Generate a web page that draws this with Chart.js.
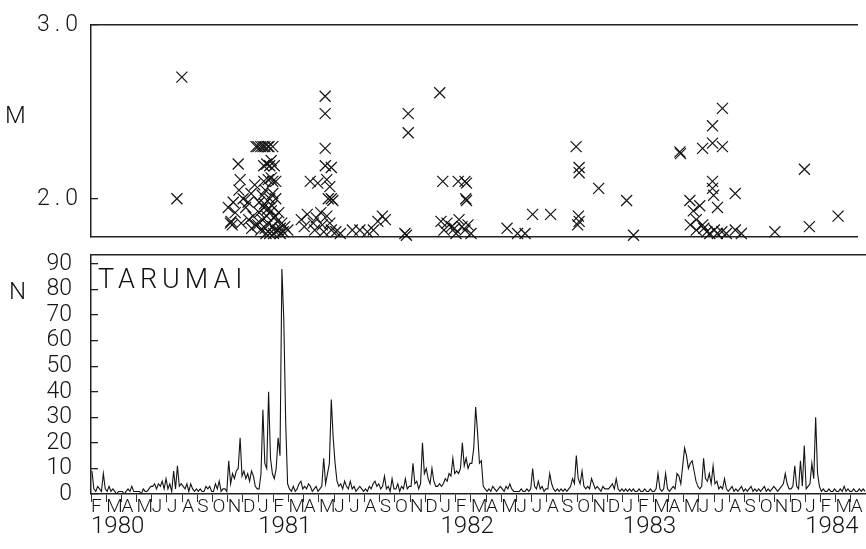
<!DOCTYPE html>
<html>
<head>
<meta charset="utf-8">
<script src="https://cdn.jsdelivr.net/npm/chart.js@4.4.0/dist/chart.umd.min.js"></script>
<style>
html,body{margin:0;padding:0;background:#fff;}
#wrap{position:relative;width:866px;height:549px;overflow:hidden;background:#fff;}
#cTop{position:absolute;left:0;top:0;}
#cBot{position:absolute;left:0;top:246px;}
.lbl{position:absolute;font-family:'Roboto',sans-serif;font-weight:300;color:#111;line-height:1;}
</style>
</head>
<body>
<div id="wrap">
<canvas id="cTop" width="866" height="246"></canvas>
<canvas id="cBot" width="866" height="303"></canvas>
<div class="lbl" style="left:5px;top:103px;font-size:24px">M</div>
<div class="lbl" style="left:9px;top:279px;font-size:24px">N</div>
<div class="lbl" style="left:98px;top:266px;font-size:27px;letter-spacing:5px">TARUMAI</div>
</div>
<script>
// Month tick labels, starting Feb 1980 (one per month)
const monthLabels = ['F','M','A','M','J','J','A','S','O','N','D',
  'J','F','M','A','M','J','J','A','S','O','N','D',
  'J','F','M','A','M','J','J','A','S','O','N','D',
  'J','F','M','A','M','J','J','A','S','O','N','D',
  'J','F','M','A'];
const yearLabels = ['1980','1981','1982','1983','1984'];
const yearStartMonth = [0, 11, 23, 35, 47];
const magTicks = [2.0, 3.0];
const countTicks = [0,10,20,30,40,50,60,70,80,90];

// Daily event counts N, read as 8 samples per month (Feb 1980 .. Apr 1984)
const dailyCounts = [
  [9,2,1,3,2,1,8,2],
  [1,3,1,2,1,0,1,1],
  [1,0,1,2,1,3,1,1],
  [1,1,0,2,1,1,2,3],
  [3,4,2,4,3,5,2,6],
  [2,4,1,9,2,11,3,4],
  [3,2,4,1,4,2,1,2],
  [1,2,1,1,3,2,3,1],
  [1,4,2,5,1,2,2,1],
  [13,4,8,6,9,10,22,7],
  [9,6,8,5,9,7,3,2],
  [2,8,33,12,10,40,14,8],
  [6,10,22,15,88,68,28,4],
  [2,1,3,1,2,4,5,2],
  [3,2,4,3,1,2,3,1],
  [2,3,14,4,8,12,37,22],
  [12,5,3,4,2,5,3,2],
  [5,2,3,1,2,3,2,1],
  [2,1,3,2,4,5,3,4],
  [2,3,7,2,3,1,6,2],
  [2,4,1,3,2,6,2,3],
  [3,12,4,5,2,4,20,8],
  [10,6,4,10,5,3,3,4],
  [3,4,6,5,8,7,14,8],
  [9,8,10,20,11,14,10,12],
  [12,18,34,24,12,13,3,2],
  [1,2,1,3,2,1,2,3],
  [2,1,3,2,4,2,1,1],
  [1,1,2,1,1,2,1,2],
  [10,3,2,5,2,3,1,2],
  [2,8,4,2,1,2,1,2],
  [1,2,1,2,3,6,4,15],
  [6,4,9,3,2,3,2,6],
  [4,2,3,2,1,3,2,2],
  [2,3,4,2,6,2,1,2],
  [1,2,1,2,1,2,1,1],
  [2,1,1,2,1,1,2,1],
  [1,2,8,2,1,2,8,2],
  [1,2,3,2,8,7,4,11],
  [18,15,10,12,13,9,5,3],
  [2,3,14,6,5,8,4,11],
  [4,5,2,3,2,6,2,1],
  [2,3,1,2,1,2,3,1],
  [2,1,2,3,1,2,1,2],
  [1,2,3,1,2,1,2,3],
  [2,1,2,3,4,8,4,2],
  [2,3,11,3,2,13,3,19],
  [2,3,4,12,6,30,8,3],
  [1,2,1,1,2,1,1,2],
  [1,1,2,1,3,1,2,1],
  [1,2,1,1,2,1,2,1]
];

// Earthquakes: [time in months since 1 Feb 1980, magnitude M]
const quakeTimeMag = [
  [5.72,2.00],[6.05,2.70],
  [9.14,1.95],[9.28,1.86],[9.32,1.87],[9.40,1.85],[9.47,1.98],[9.60,1.92],[9.80,2.20],[9.93,2.11],[9.85,2.05],[10.00,1.86],[10.13,2.00],[10.30,1.95],[10.46,1.98],[10.50,1.88],[10.66,2.03],[10.70,1.83],[10.79,1.90],[10.90,2.08],[10.95,1.85],
  [10.99,2.30],[11.12,2.30],[11.30,2.30],[11.45,2.30],[11.58,2.30],[11.78,2.30],[11.85,2.30],[12.10,2.30],
  [11.50,2.19],[11.70,2.20],[11.90,2.19],[12.00,2.22],[12.20,2.19],
  [11.50,2.10],[11.80,2.11],[12.00,2.12],[12.10,2.10],[12.30,2.10],
  [11.20,1.98],[11.40,2.02],[11.60,2.05],[11.90,2.00],[12.10,2.03],[12.30,2.00],
  [11.10,1.85],[11.20,1.92],[11.30,1.82],[11.40,1.88],[11.50,1.95],[11.60,1.83],[11.70,1.90],[11.80,1.86],[11.90,1.80],[12.00,1.93],[12.10,1.84],[12.20,1.89],[12.30,1.81],[12.40,1.87],[12.50,1.92],[12.60,1.83],[12.70,1.86],[12.80,1.81],[12.90,1.84],[13.10,1.82],[11.55,1.97],[11.75,1.94],[12.05,1.96],[12.25,1.90],[12.45,1.82],[11.65,1.80],[12.15,1.80],[12.60,1.80],
  [14.00,1.88],[14.20,1.84],[14.40,1.91],[14.60,2.10],[14.80,1.86],[14.90,1.82],[15.00,1.89],[15.10,2.09],[15.30,1.92],[15.40,1.85],[15.50,1.81],
  [15.59,2.59],[15.59,2.49],[15.59,2.29],[15.60,2.19],[16.00,2.18],[15.70,2.11],[15.90,2.07],[15.80,2.00],[16.00,2.00],[16.10,1.99],[15.70,1.90],[15.90,1.86],[16.00,1.82],[16.30,1.81],[16.60,1.80],
  [17.40,1.82],[17.90,1.82],[18.40,1.81],[18.80,1.82],[19.10,1.87],[19.40,1.90],[19.60,1.88],[20.90,1.80],[21.00,1.79],[21.12,2.49],[21.12,2.38],
  [23.22,2.61],[23.42,2.10],[24.45,2.10],[24.90,2.10],[25.00,2.09],[24.95,2.00],[25.00,1.99],[23.30,1.87],[23.50,1.82],[23.70,1.86],[24.00,1.84],[24.20,1.83],[24.50,1.88],[24.70,1.84],[24.90,1.82],[25.10,1.85],[25.30,1.80],[24.30,1.80],
  [27.70,1.83],[28.40,1.80],[28.90,1.80],[29.40,1.91],[30.60,1.91],
  [32.30,2.30],[32.50,2.18],[32.50,2.15],[32.45,1.90],[32.50,1.87],[32.40,1.85],
  [33.80,2.06],[35.66,1.99],[36.12,1.79],
  [39.21,2.27],[39.25,2.26],[39.87,1.99],[40.10,1.93],[40.30,1.88],[40.72,2.29],[41.38,2.32],[42.04,2.30],[41.38,2.42],[42.04,2.52],[41.38,2.10],[41.38,2.06],[41.45,2.02],[40.53,1.96],[41.71,1.95],[42.89,2.03],
  [39.90,1.85],[40.30,1.82],[40.72,1.85],[40.80,1.83],[41.00,1.81],[41.20,1.80],[41.50,1.82],[41.70,1.80],[42.00,1.81],[42.30,1.80],[42.90,1.82],[43.30,1.80],
  [45.53,1.81],[47.50,2.17],[47.83,1.84],[49.74,1.90]
];

const X_MIN = 0, X_MAX = 51;
const INK = '#141414';
const frame = {display:true, color:'#222', width:1.5};

const countPoints = [];
dailyCounts.forEach((month, k) => {
  month.forEach((v, j) => countPoints.push({x: k + (j + 0.5) / month.length, y: v}));
});
const quakePoints = quakeTimeMag.map(q => ({x: q[0], y: q[1]}));

const common = {
  responsive: false,
  animation: false,
  events: [],
  plugins: {legend: {display: false}, tooltip: {enabled: false}, title: {display: false}}
};

function fixVertical(width) {
  return function (s) { s.width = width; s.paddingTop = 0; s.paddingBottom = 0; };
}
function fixHorizontal(height) {
  return function (s) { s.height = height; s.paddingLeft = 0; s.paddingRight = 0; };
}

const frameAxis = (pos) => ({
  type: 'linear', position: pos, min: X_MIN, max: X_MAX,
  ticks: {display: false}, grid: {display: false, drawTicks: false},
  border: frame, afterFit: fixHorizontal(0)
});

new Chart(document.getElementById('cTop'), {
  type: 'scatter',
  data: {datasets: [{
    data: quakePoints, pointStyle: 'crossRot', pointRadius: 7.8,
    borderColor: INK, backgroundColor: INK, borderWidth: 1.2, clip: false
  }]},
  options: Object.assign({}, common, {
    layout: {padding: {top: 25, bottom: 8, left: 0, right: 0}},
    scales: {
      x: frameAxis('bottom'),
      xTop: frameAxis('top'),
      y: {
        type: 'linear', position: 'left', min: 1.78, max: 3.0,
        afterBuildTicks(s) { s.ticks = magTicks.map(v => ({value: v})); },
        ticks: {autoSkip: false, callback: v => Number(v).toFixed(1), padding: 15, color: INK,
                font: {family: 'Roboto', size: 23, weight: '300'}},
        grid: {drawOnChartArea: false, drawTicks: true, tickLength: -7, color: '#222', lineWidth: 1.3},
        border: frame,
        afterFit: fixVertical(91)
      }
    }
  }),
  plugins: [{id: 'spacing', beforeDraw(c) { c.ctx.letterSpacing = '5px'; }}]
});

new Chart(document.getElementById('cBot'), {
  type: 'line',
  data: {datasets: [{
    data: countPoints, borderColor: INK, borderWidth: 1.1,
    pointRadius: 0, tension: 0, fill: false
  }]},
  options: Object.assign({}, common, {
    layout: {padding: {top: 9, bottom: 0, left: 0, right: 0}},
    scales: {
      x: {
        type: 'linear', position: 'bottom', min: X_MIN, max: X_MAX, weight: 0,
        afterBuildTicks(s) { s.ticks = monthLabels.map((l, i) => ({value: i})); },
        ticks: {autoSkip: false, maxRotation: 0, minRotation: 0, align: 'start', padding: -6,
                callback: (v, i) => monthLabels[i], color: INK,
                font: {family: 'Roboto', size: 19, weight: '300'}},
        grid: {drawOnChartArea: false, drawTicks: true, tickLength: 8, color: '#333', lineWidth: 1},
        border: frame,
        afterFit: fixHorizontal(20)
      },
      xYear: {
        type: 'linear', position: 'bottom', min: X_MIN, max: X_MAX, weight: 1,
        afterBuildTicks(s) { s.ticks = yearStartMonth.map(v => ({value: v})); },
        ticks: {autoSkip: false, maxRotation: 0, minRotation: 0, align: 'start', padding: -1,
                callback: (v, i) => yearLabels[i], color: INK,
                font: {family: 'Roboto', size: 24, weight: '300'}},
        grid: {display: false, drawTicks: false},
        border: {display: false},
        afterFit: fixHorizontal(35)
      },
      xTop: frameAxis('top'),
      y: {
        type: 'linear', position: 'left', min: 0, max: 93.5,
        afterBuildTicks(s) { s.ticks = countTicks.map(v => ({value: v})); },
        ticks: {autoSkip: false, callback: v => String(v), padding: 26, color: INK,
                font: {family: 'Roboto', size: 23, weight: '300'}},
        grid: {drawOnChartArea: false, drawTicks: true, tickLength: -7, color: '#222', lineWidth: 1.3},
        border: frame,
        afterFit: fixVertical(91)
      }
    }
  })
});
</script>
</body>
</html>
